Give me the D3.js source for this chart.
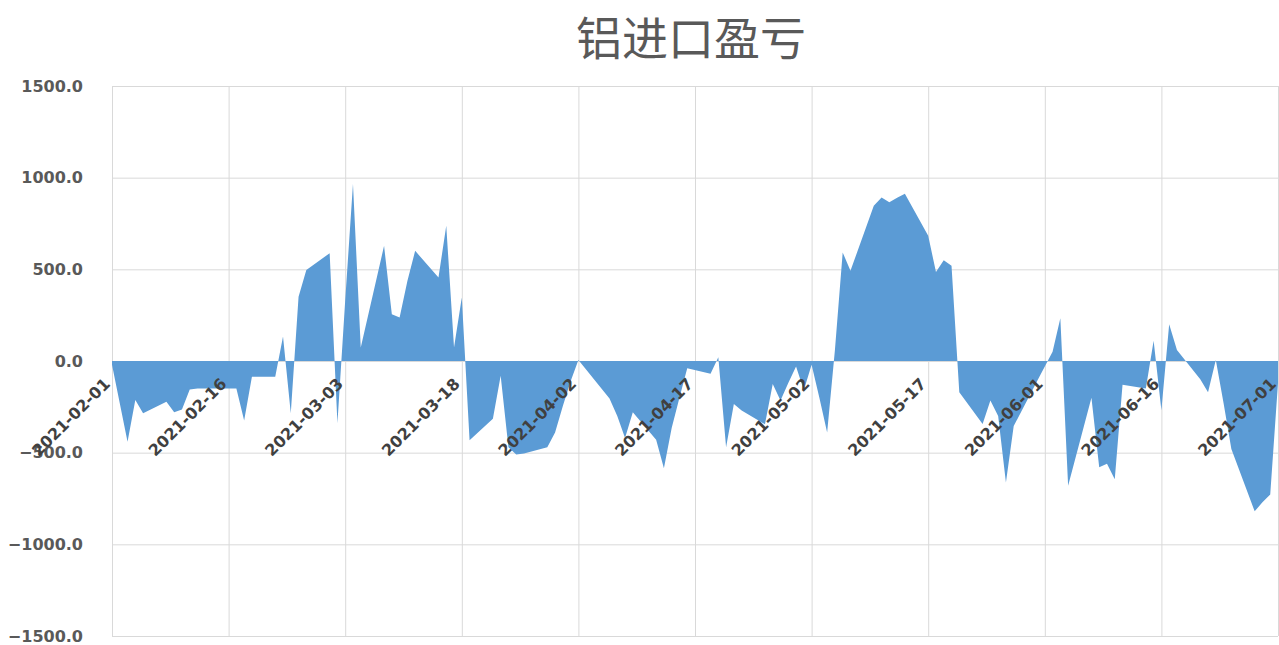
<!DOCTYPE html>
<html>
<head>
<meta charset="utf-8">
<script src="https://cdn.jsdelivr.net/npm/d3@7"></script>
<style>
	html, body { margin: 0; padding: 0; background: #fff; }
	svg { display: block; }
</style>
</head>
<body>
<div class="vis"></div>
<script>
// 铝进口盈亏 daily values
var dates = [
	'2021-02-01','2021-02-02','2021-02-03','2021-02-04','2021-02-05',
	'2021-02-08','2021-02-09','2021-02-10','2021-02-11','2021-02-12',
	'2021-02-15','2021-02-16','2021-02-17','2021-02-18','2021-02-19',
	'2021-02-22','2021-02-23','2021-02-24','2021-02-25','2021-02-26',
	'2021-03-01','2021-03-02','2021-03-03','2021-03-04','2021-03-05',
	'2021-03-08','2021-03-09','2021-03-10','2021-03-11','2021-03-12',
	'2021-03-15','2021-03-16','2021-03-17','2021-03-18','2021-03-19',
	'2021-03-22','2021-03-23','2021-03-24','2021-03-25','2021-03-26',
	'2021-03-29','2021-03-30','2021-03-31','2021-04-01','2021-04-02',
	'2021-04-06','2021-04-07','2021-04-08','2021-04-09',
	'2021-04-12','2021-04-13','2021-04-14','2021-04-15','2021-04-16',
	'2021-04-19','2021-04-20','2021-04-21','2021-04-22','2021-04-23',
	'2021-04-26','2021-04-27','2021-04-28','2021-04-29','2021-04-30',
	'2021-05-01','2021-05-02','2021-05-03','2021-05-04','2021-05-05',
	'2021-05-06','2021-05-07','2021-05-10','2021-05-11','2021-05-12',
	'2021-05-13','2021-05-14','2021-05-17','2021-05-18','2021-05-19',
	'2021-05-20','2021-05-21','2021-05-24','2021-05-25','2021-05-26',
	'2021-05-27','2021-05-28','2021-05-31','2021-06-01','2021-06-02',
	'2021-06-03','2021-06-04','2021-06-07','2021-06-08','2021-06-09',
	'2021-06-10','2021-06-11','2021-06-14','2021-06-15','2021-06-16',
	'2021-06-17','2021-06-18','2021-06-21','2021-06-22','2021-06-23',
	'2021-06-24','2021-06-25','2021-06-28','2021-06-29','2021-06-30',
	'2021-07-01'
];
var values = [
	-20, -230, -440, -213, -285,
	-222, -280, -265, -155, -150,
	-150, -150, -150, -325, -86,
	-86, 133, -285, 351, 497,
	588, -340, 330, 966, 73,
	628, 255, 237, 437, 601,
	455, 738, 73, 346, -432,
	-315, -80, -471, -510, -505,
	-470, -390, -245, -110, 5,
	-205, -300, -420, -280,
	-430, -585, -365, -200, -40,
	-70, 20, -470, -235, -270,
	-345, -125, -216, -120, -30,
	-160, -20, -200, -390, 60,
	592, 492, 847, 892, 866,
	890, 912, 683, 485, 549,
	519, -170, -343, -216, -300,
	-663, -355, -110, -30, 50,
	233, -680, -200, -580, -560,
	-645, -130, -150, 110, -268,
	200, 60, -100, -170, 5,
	-230, -480, -820, -770, -728,
	-120
];
var yTicks = [-1500, -1000, -500, 0, 500, 1000, 1500];
var xTickStart = '2021-02-01';
var xTickEnd = '2021-07-01';
var xTickStepDays = 15;
var title = '铝进口盈亏';

var W = 1279, H = 645;
var margin = {left: 112, right: 1278, top: 86, bottom: 636};

var parse = d3.timeParse('%Y-%m-%d');
var fmt = d3.timeFormat('%Y-%m-%d');

var data = dates.map(function(d, i) {
	return { date: parse(d), v: values[i] };
});

var svg = d3.select('.vis').append('svg')
	.attr('width', W)
	.attr('height', H);

var scaleX = d3.scaleTime()
	.domain([parse(xTickStart), parse(xTickEnd)])
	.range([margin.left, margin.right]);

var scaleY = d3.scaleLinear()
	.domain([-1500, 1500])
	.range([margin.bottom, margin.top]);

var xTicks = d3.timeDay.range(parse(xTickStart), d3.timeDay.offset(parse(xTickEnd), 1))
	.filter(function(d, i) { return i % xTickStepDays === 0; });

// gridlines
var yAxis = d3.axisLeft(scaleY)
	.tickValues(yTicks)
	.tickSize(-(margin.right - margin.left))
	.tickFormat(function(d) { return d3.format('.1f')(d); });

var gy = svg.append('g')
	.attr('class', 'y axis')
	.attr('transform', 'translate(' + margin.left + ',0)')
	.call(yAxis);
gy.select('.domain').remove();
gy.selectAll('line').attr('stroke', '#d9d9d9');
gy.selectAll('text')
	.attr('x', -29)
	.attr('fill', '#595959')
	.style('font-family', '"DejaVu Sans", sans-serif')
	.style('font-weight', 'bold')
	.style('font-size', '16px');

var xGrid = d3.axisBottom(scaleX)
	.tickValues(xTicks)
	.tickSize(-(margin.bottom - margin.top))
	.tickFormat('');

var gx = svg.append('g')
	.attr('class', 'x grid')
	.attr('transform', 'translate(0,' + margin.bottom + ')')
	.call(xGrid);
gx.select('.domain').remove();
gx.selectAll('line').attr('stroke', '#d9d9d9');

// area
var area = d3.area()
	.x(function(d) { return scaleX(d.date); })
	.y0(scaleY(0))
	.y1(function(d) { return scaleY(d.v); });

svg.append('path')
	.datum(data)
	.attr('d', area)
	.attr('fill', '#5b9bd5');

// rotated date labels next to the zero line
var zeroY = scaleY(0);
svg.append('g')
	.attr('class', 'x labels')
	.selectAll('text')
	.data(xTicks)
	.enter().append('text')
	.attr('transform', function(d) {
		return 'translate(' + (scaleX(d) - 1) + ',' + (zeroY + 24) + ') rotate(-45)';
	})
	.attr('text-anchor', 'end')
	.attr('fill', '#404040')
	.style('font-family', '"DejaVu Sans", sans-serif')
	.style('font-weight', 'bold')
	.style('font-size', '16px')
	.text(function(d) { return fmt(d); });

svg.append('text')
	.attr('x', 691)
	.attr('y', 55)
	.attr('text-anchor', 'middle')
	.attr('fill', '#595959')
	.style('font-family', '"Noto Sans CJK SC", sans-serif')
	.style('font-size', '46px')
	.text(title);
</script>
</body>
</html>
